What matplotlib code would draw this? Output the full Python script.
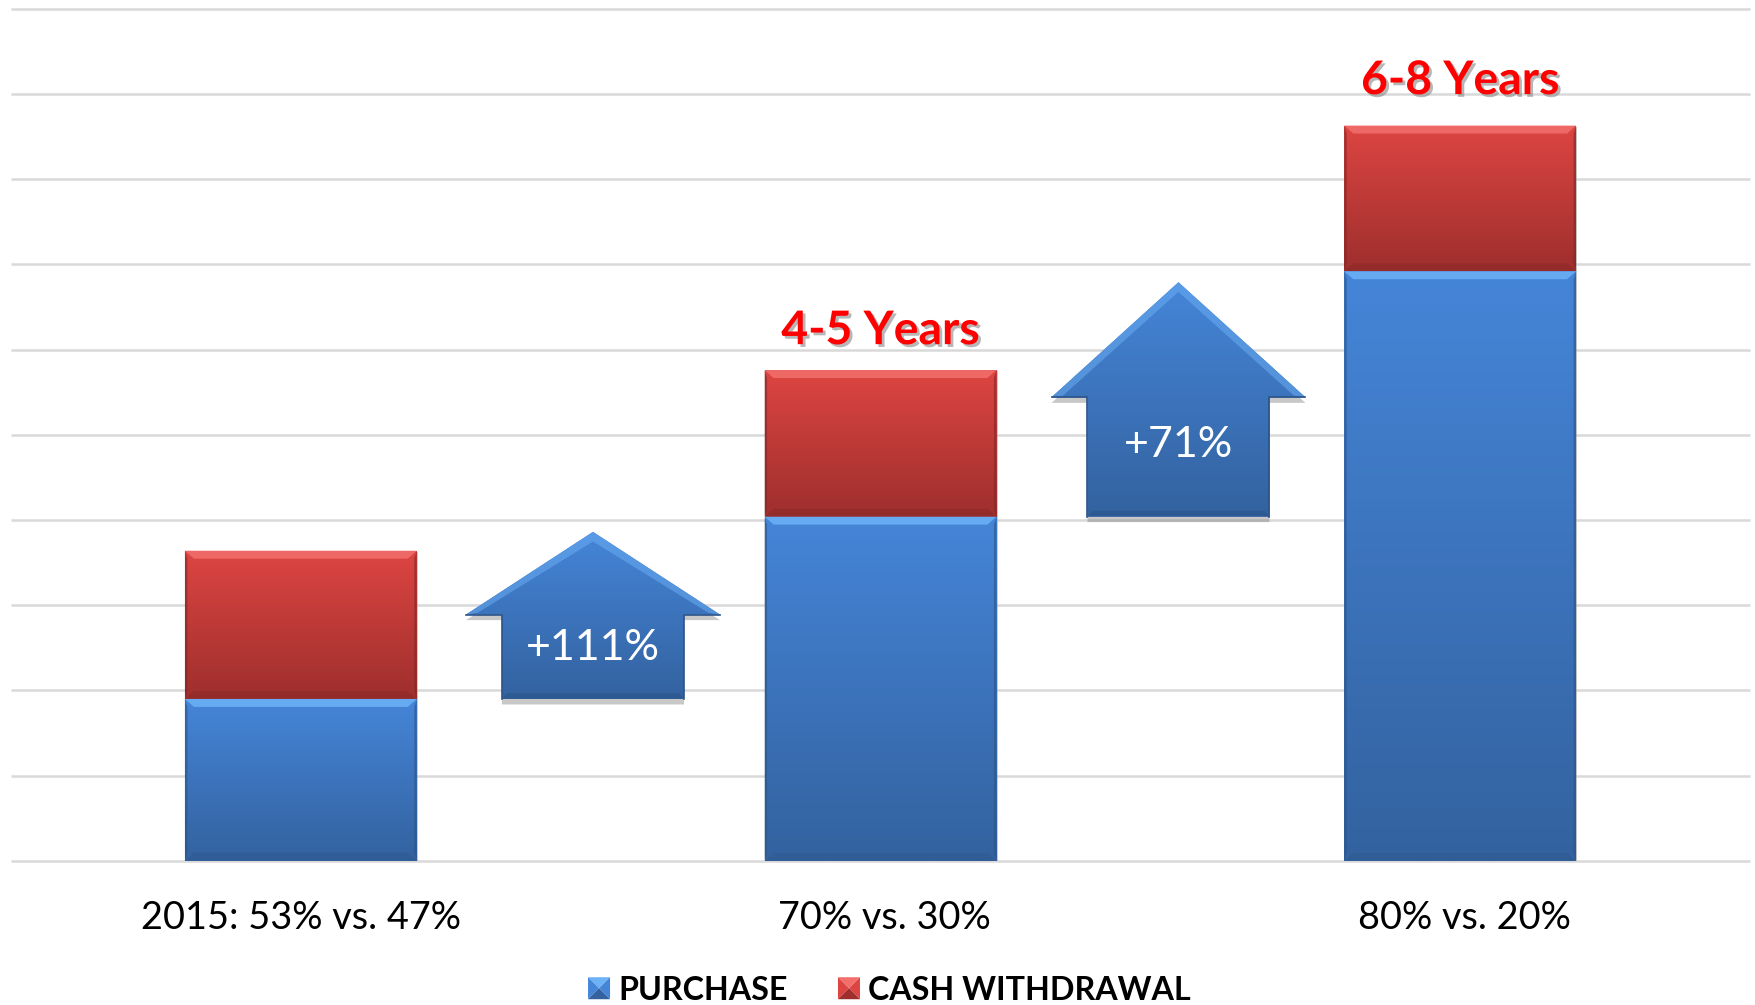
import matplotlib
matplotlib.use("Agg")
import matplotlib.pyplot as plt
import matplotlib.patheffects as pe
import numpy as np
from matplotlib.colors import LinearSegmentedColormap
from matplotlib.legend_handler import HandlerBase
from matplotlib.patches import Patch, Polygon

plt.rcParams['font.family'] = ['Lato', 'DejaVu Sans']

# values (axis is 0-100, no tick labels shown)
categories = ["2015: 53% vs. 47%", "70% vs. 30%", "80% vs. 20%"]
label_pos = [0.0, 1.007, 2.007]
purchase = [19.0, 40.4, 69.2]
cash = [17.4, 17.2, 17.1]
year_labels = ["", "4-5 Years", "6-8 Years"]
year_gap = [0, 2.1, 2.75]
# growth arrows
arrow_labels = ["+111%", "+71%"]
arrow_x = [0.504, 1.514]
arrow_bottom = [19.0, 40.4]
arrow_wing = [28.9, 54.4]
arrow_tip = [38.6, 67.9]

blue = {"top": "#4585d8", "bottom": "#33629f", "light": "#6db1f6", "dark": "#2b5488", "side": "#3a6cae"}
red = {"top": "#dd4542", "bottom": "#9e2f2d", "light": "#f26f6c", "dark": "#812625", "side": "#a83331"}

fig = plt.figure(figsize=(17.56, 10.05), dpi=100)
ax = fig.add_axes([11 / 1756, 1 - 860.8 / 1005, 1739 / 1756, 852 / 1005])
ax.set_xlim(-0.5, 2.5)
ax.set_ylim(0, 100)
PX = 3 / 1739   # one pixel in x units
PY = 100 / 852   # one pixel in y units


def gradient(patch, col):
    # vertical gradient clipped to the patch
    (x0, y0), (x1, y1) = patch.get_path().transformed(patch.get_patch_transform()).get_extents().get_points()
    cmap = LinearSegmentedColormap.from_list("g", [col["bottom"], col["top"]])
    im = ax.imshow(np.linspace(1, 0, 256).reshape(-1, 1), cmap=cmap, aspect="auto",
                   extent=(x0, x1, y0, y1), zorder=patch.get_zorder() + 0.1)
    im.set_clip_path(patch)


def bevel_bar(x, bottom, height, width, col):
    bar = ax.bar(x, height, width, bottom=bottom, color=col["top"], linewidth=0, zorder=3,
                 path_effects=[pe.SimplePatchShadow(offset=(1, -1), shadow_rgbFace="#999999", alpha=0.5), pe.Normal()])[0]
    gradient(bar, col)
    l, r = x - width / 2, x + width / 2
    b, t = bottom, bottom + height
    dx, dy = 9 * PX, 8 * PY
    sx = 2.5 * PX
    ax.add_patch(Polygon([(l, t), (r, t), (r - dx, t - dy), (l + dx, t - dy)], fc=col["light"], lw=0, alpha=0.85, zorder=3.3))
    ax.add_patch(Polygon([(l, b), (r, b), (r - dx, b + dy), (l + dx, b + dy)], fc=col["dark"], lw=0, alpha=0.35, zorder=3.3))
    ax.add_patch(Polygon([(l, b), (l, t), (l + sx, t - dy), (l + sx, b + dy)], fc=col["dark"], lw=0, alpha=0.6, zorder=3.3))
    ax.add_patch(Polygon([(r, b), (r, t), (r - sx, t - dy), (r - sx, b + dy)], fc=col["dark"], lw=0, alpha=0.6, zorder=3.3))


def house_arrow(x, bottom, wing, tip, col):
    hw, sw = 0.219, 0.157
    pts = [(x - sw, bottom), (x - sw, wing), (x - hw, wing), (x, tip), (x + hw, wing), (x + sw, wing), (x + sw, bottom)]
    arrow = Polygon(pts, fc=col["top"], lw=0, zorder=3,
                    path_effects=[pe.SimplePatchShadow(offset=(0, -4), shadow_rgbFace="#777777", alpha=0.4), pe.Normal()])
    ax.add_patch(arrow)
    gradient(arrow, col)
    d = 6 * PY
    ax.add_patch(Polygon([(x - hw, wing), (x, tip), (x + hw, wing), (x + hw - 0.02, wing + d * 0.3), (x, tip - 1.6 * d), (x - hw + 0.02, wing + d * 0.3)],
                         fc=col["light"], lw=0, alpha=0.5, zorder=3.3))
    ax.add_patch(Polygon([(x - sw, bottom), (x + sw, bottom), (x + sw - 5 * PX, bottom + d), (x - sw + 5 * PX, bottom + d)],
                         fc=col["dark"], lw=0, alpha=0.5, zorder=3.3))
    ax.plot([x - hw, x - sw, x - sw], [wing, wing, bottom], color=col["dark"], lw=1.2, zorder=3.4)
    ax.plot([x + hw, x + sw, x + sw], [wing, wing, bottom], color=col["dark"], lw=1.2, zorder=3.4)


class PyramidHandler(HandlerBase):
    # little bevelled square like the office legend key
    def create_artists(self, legend, orig, xd, yd, w, h, fontsize, trans):
        col = blue if orig.get_facecolor()[2] > orig.get_facecolor()[0] else red
        s = 22 * 0.72
        x0 = xd * -1 + (w - s) / 2
        y0 = -yd + (h - s) / 2
        c = (x0 + s / 2, y0 + s / 2)
        a, b, e, f = (x0, y0), (x0 + s, y0), (x0 + s, y0 + s), (x0, y0 + s)
        out = [Polygon([f, e, c], fc=col["light"], lw=0, transform=trans),
               Polygon([a, f, c], fc=col["top"], lw=0, transform=trans),
               Polygon([b, e, c], fc=col["top"], lw=0, transform=trans),
               Polygon([a, b, c], fc=col["bottom"], lw=0, transform=trans)]
        return out


for i in range(3):
    bevel_bar(i, 0, purchase[i], 0.4, blue)
    bevel_bar(i, purchase[i], cash[i], 0.4, red)
    if year_labels[i]:
        ax.text(i, purchase[i] + cash[i] + year_gap[i], year_labels[i], color="#ff0000", fontsize=33.4, fontweight="bold",
                ha="center", va="bottom", zorder=5,
                path_effects=[pe.withSimplePatchShadow(offset=(2, -2), shadow_rgbFace="#888888", alpha=0.6)])

for i in range(2):
    house_arrow(arrow_x[i], arrow_bottom[i], arrow_wing[i], arrow_tip[i], blue)
    ax.text(arrow_x[i], arrow_bottom[i] + (arrow_wing[i] - arrow_bottom[i]) * 0.6, arrow_labels[i], color="white", fontsize=31,
            ha="center", va="center", zorder=5)

ax.set_xlim(-0.5, 2.5)
ax.set_ylim(0, 100)
ax.set_yticks(np.arange(0, 101, 10))
ax.set_yticklabels([])
ax.set_xticks(label_pos)
ax.set_xticklabels(categories, fontsize=27.3, color="black")
ax.tick_params(length=0, axis="both", pad=28)
ax.grid(axis="y", color="#d9d9d9", linewidth=1.8, zorder=0)
ax.set_axisbelow(True)
for s in ax.spines.values():
    s.set_visible(False)
for line in ax.get_ygridlines():
    line.set_clip_on(False)
    line.set_solid_capstyle("butt")

handles = [Patch(facecolor=blue["top"], label="PURCHASE"), Patch(facecolor=red["top"], label="CASH WITHDRAWAL")]
leg = fig.legend(handles=handles, loc="center", bbox_to_anchor=(887 / 1756, 1 - 990 / 1005), ncol=2, frameon=False,
                 handler_map={Patch: PyramidHandler()}, prop={"size": 23.2, "weight": "bold"},
                 handlelength=1.0, handletextpad=0.1, columnspacing=1.4)

fig.savefig("out.png", dpi=100)
